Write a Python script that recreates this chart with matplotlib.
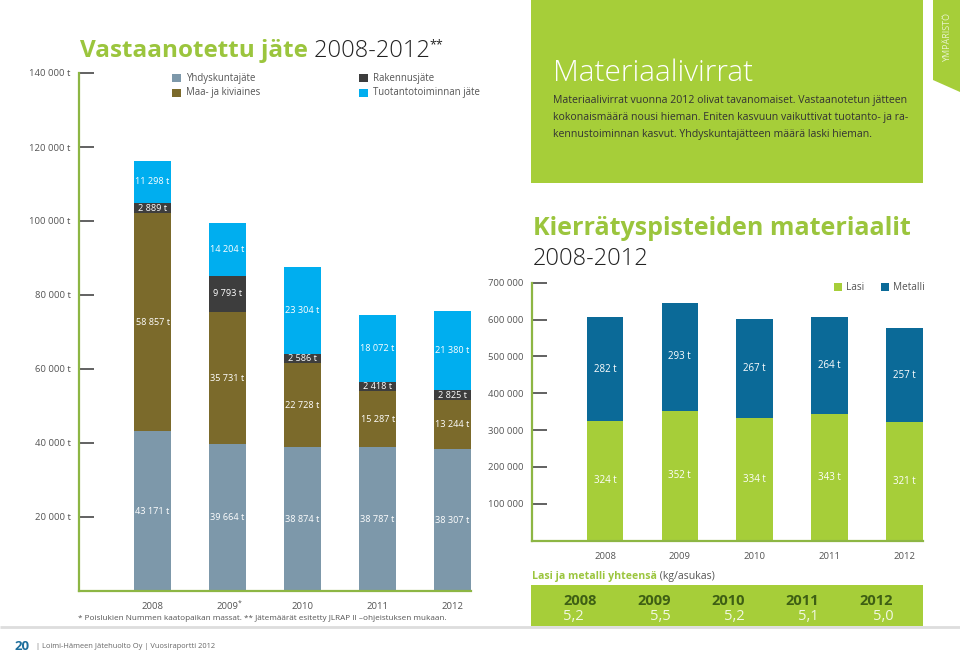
import numpy as np
import matplotlib
matplotlib.use("Agg")
import matplotlib.pyplot as plt
from matplotlib.patches import Rectangle, Polygon

plt.rcParams["font.family"] = ["Open Sans", "DejaVu Sans"]

# ── data ─────────────────────────────────────────────────────────────────────
years = ["2008", "2009", "2010", "2011", "2012"]

yhdyskunta = [43171, 39664, 38874, 38787, 38307]
maa_kivi = [58857, 35731, 22728, 15287, 13244]
rakennus = [2889, 9793, 2586, 2418, 2825]
tuotanto = [11298, 14204, 23304, 18072, 21380]

left_ticks = [20000, 40000, 60000, 80000, 100000, 120000, 140000]
right_ticks = [100000, 200000, 300000, 400000, 500000, 600000, 700000]

lasi_t = [324, 352, 334, 343, 321]
metalli_t = [282, 293, 267, 264, 257]
kg_per_asukas = [5.2, 5.5, 5.2, 5.1, 5.0]

# ── colours ──────────────────────────────────────────────────────────────────
C_YHD = "#7D98AA"
C_MAA = "#7B6A2B"
C_RAK = "#3D3D3D"
C_TUO = "#00AEEF"
C_LASI = "#A6CE39"
C_MET = "#0B6A98"
C_GREEN_TXT = "#9BC53D"
C_PANEL = "#A6CE39"
C_AXIS = "#8DB644"
C_GRAY = "#555555"

W, H = 960, 653
fig = plt.figure(figsize=(W / 100, H / 100), dpi=100)

# pixel-space background axes for panels and free text
bg = fig.add_axes([0, 0, 1, 1], zorder=0)
bg.set_xlim(0, W)
bg.set_ylim(H, 0)
bg.axis("off")


def pax(x0, y_top, x1, y_bot, z=1):
    return fig.add_axes([x0 / W, 1 - y_bot / H, (x1 - x0) / W, (y_bot - y_top) / H],
                        zorder=z, facecolor="none")


def style_axes(ax):
    for s in ("top", "right"):
        ax.spines[s].set_visible(False)
    for s in ("left", "bottom"):
        ax.spines[s].set_color(C_AXIS)
        ax.spines[s].set_linewidth(1.6)
    ax.tick_params(axis="y", direction="in", length=11, width=1.3, color="#555555",
                   labelsize=6.8, labelcolor=C_GRAY, pad=6)
    ax.tick_params(axis="x", length=0, labelsize=6.8, labelcolor=C_GRAY, pad=8)


def chain(prev, text, **kw):
    return bg.annotate(text, xy=(1, 0), xycoords=prev, va="bottom", ha="left", **kw)


# ── left chart: Vastaanotettu jäte ───────────────────────────────────────────
x = np.arange(len(years))
axl = pax(79, 73, 471, 591)
bw = 0.49
series = [(yhdyskunta, C_YHD), (maa_kivi, C_MAA), (rakennus, C_RAK), (tuotanto, C_TUO)]
bottom = np.zeros(len(years))
for vals, col in series:
    vals = np.array(vals, dtype=float)
    axl.bar(x, vals, bw, bottom=bottom, color=col, linewidth=0)
    for xi, b, v in zip(x, bottom, vals):
        axl.text(xi, b + v / 2, f"{int(v):,} t".replace(",", " "), ha="center",
                 va="center", color="white", fontsize=6.6)
    bottom += vals
axl.set_ylim(0, 140000)
axl.set_xlim(-0.98, 4.245)
axl.set_yticks(left_ticks)
axl.set_yticklabels([f"{v:,} t".replace(",", " ") for v in left_ticks])
axl.set_xticks(x)
axl.set_xticklabels(years)
style_axes(axl)
# footnote star on 2009
axl.annotate("*", xy=(1, 0), xycoords=("data", "axes fraction"), xytext=(7, -9),
             textcoords="offset points", fontsize=5, color=C_GRAY, ha="left", va="center")

t1 = bg.text(80, 57, "Vastaanotettu jäte", color=C_GREEN_TXT, fontsize=17.5,
             fontweight="bold", va="baseline")
t2 = chain(t1, " 2008-2012", color="#222222", fontsize=17, fontweight="light")
bg.annotate("**", xy=(1, 0.75), xycoords=t2, va="center", ha="left",
            color="#222222", fontsize=9)

legend_items = [("Yhdyskuntajäte", C_YHD, 172, 78), ("Maa- ja kiviaines", C_MAA, 172, 93),
                ("Rakennusjäte", C_RAK, 359, 78), ("Tuotantotoiminnan jäte", C_TUO, 359, 93)]
for lab, col, lx, ly in legend_items:
    bg.add_patch(Rectangle((lx, ly - 4.5), 8.5, 8.5, color=col, lw=0))
    bg.text(lx + 14, ly, lab, va="center", ha="left", fontsize=6.9, color=C_GRAY)

bg.text(78, 618, "* Poislukien Nummen kaatopaikan massat. ** Jätemäärät esitetty "
        "JLRAP II –ohjeistuksen mukaan.", fontsize=5.9, color=C_GRAY, va="center")

# ── green info panel ─────────────────────────────────────────────────────────
bg.add_patch(Rectangle((531, 0), 392, 183, color=C_PANEL, lw=0))
bg.add_patch(Polygon([(933, 0), (960, 0), (960, 92), (933, 80)], closed=True,
                     color=C_PANEL, lw=0))
bg.text(948, 38, "YMPÄRISTÖ", rotation=90, color="#E8F3CC", fontsize=6.5,
        ha="center", va="center")
bg.text(553, 81, "Materiaalivirrat", color="white", fontsize=21.5, fontweight="light",
        va="baseline")
body = ["Materiaalivirrat vuonna 2012 olivat tavanomaiset. Vastaanotetun jätteen",
        "kokonaismäärä nousi hieman. Eniten kasvuun vaikuttivat tuotanto- ja ra-",
        "kennustoiminnan kasvut. Yhdyskuntajätteen määrä laski hieman."]
for i, line in enumerate(body):
    bg.text(553, 101 + 16.5 * i, line, color="#333333", fontsize=7.55, va="center")

# ── right chart: Kierrätyspisteiden materiaalit ──────────────────────────────
bg.text(533, 235, "Kierrätyspisteiden materiaalit", color=C_GREEN_TXT,
        fontsize=18, fontweight="bold", va="baseline")
bg.text(533, 265, "2008-2012", color="#222222", fontsize=17, fontweight="light",
        va="baseline")

axr = pax(531.7, 282.7, 922.7, 540.7)
lasi = np.array(lasi_t) * 1000
metalli = np.array(metalli_t) * 1000
axr.bar(x, lasi, bw, color=C_LASI, linewidth=0)
axr.bar(x, metalli, bw, bottom=lasi, color=C_MET, linewidth=0)
for xi, lv, mv, lt, mt in zip(x, lasi, metalli, lasi_t, metalli_t):
    axr.text(xi, lv / 2, f"{lt} t", ha="center", va="center", color="white", fontsize=7)
    axr.text(xi, lv + mv / 2, f"{mt} t", ha="center", va="center", color="white",
             fontsize=7)
axr.set_ylim(0, 700000)
axr.set_xlim(-0.98, 4.245)
axr.set_yticks(right_ticks)
axr.set_yticklabels([f"{v:,}".replace(",", " ") for v in right_ticks])
axr.set_xticks(x)
axr.set_xticklabels(years)
style_axes(axr)

for lab, col, lx in [("Lasi", C_LASI, 834), ("Metalli", C_MET, 881)]:
    bg.add_patch(Rectangle((lx, 283), 8, 8, color=col, lw=0))
    bg.text(lx + 12, 287, lab, va="center", ha="left", fontsize=7.2, color=C_GRAY)

t4 = bg.text(532, 576, "Lasi ja metalli yhteensä", color=C_GREEN_TXT, fontsize=7.6,
             fontweight="bold", va="center")
chain(t4, " (kg/asukas)", color=C_GRAY, fontsize=7.6)

bg.add_patch(Rectangle((531, 585), 392, 41, color=C_PANEL, lw=0))
for i, (yr, val) in enumerate(zip(years, kg_per_asukas)):
    xl = 563 + 74.2 * i
    ty = bg.text(xl, 601, yr, color="#3E5F14", fontsize=10.5, fontweight="bold",
                 va="center", ha="left")
    vs = f"{val:.1f}".replace(".", ",")
    if i == 0:
        bg.text(xl, 616, vs, color="#F2F8E4", fontsize=10.5, va="center", ha="left")
    else:
        bg.annotate(vs, xy=(1, 0.5), xycoords=ty, xytext=(0, -15),
                    textcoords="offset pixels", color="#F2F8E4", fontsize=10.5,
                    va="center", ha="right")

# ── footer ───────────────────────────────────────────────────────────────────
bg.plot([0, W], [626.5, 626.5], color="#DDDDDD", lw=2, solid_capstyle="butt")
bg.text(15, 646, "20", color="#1D6E9C", fontsize=9.5, fontweight="bold", va="center")
bg.text(36, 646, "| Loimi-Hämeen Jätehuolto Oy | Vuosiraportti 2012", color="#666666",
        fontsize=5.4, va="center")

fig.savefig("out.png", dpi=100)
